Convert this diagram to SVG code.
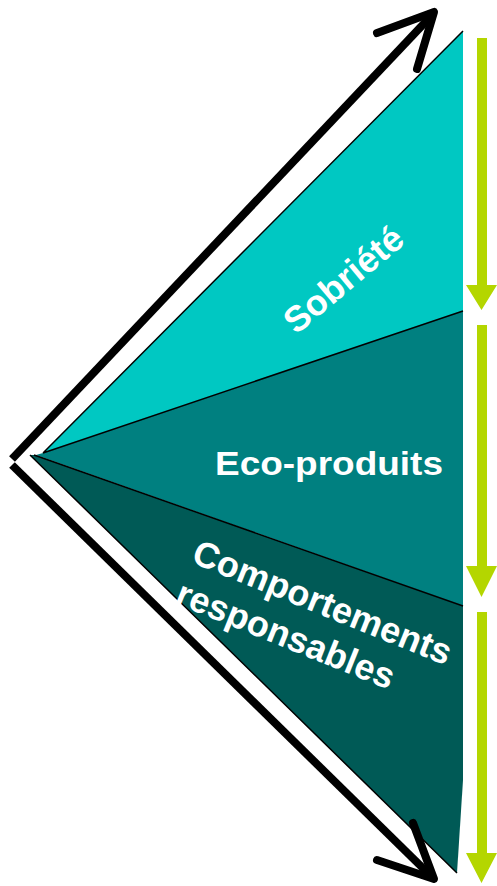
<svg xmlns="http://www.w3.org/2000/svg" width="497" height="886" viewBox="0 0 497 886">
<style>
.lbl{font-family:"Liberation Sans",Arial,sans-serif;font-weight:bold;fill:#fff}
.edge{stroke:#000;stroke-width:1.5;fill:none}
.blk{stroke:#000;stroke-width:8;fill:none;stroke-linejoin:round}
.grn{fill:#B4D600}
</style>
<g id="seg-sobriete">
<polygon points="43,453 463,31 463,311" fill="#00C8C2"/>
</g>
<g id="seg-ecoproduits">
<polygon points="43,453 463,311 463,606 36,455" fill="#008080"/>
</g>
<g id="seg-comportements">
<polygon points="36,455 463,606 463,780 457,873 30,455" fill="#005A56"/>
</g>
<g id="edges">
<path class="edge" d="M43,453 L463,31 M43,453 L463,311 M34,455 L463,606 M30,455 L457,873"/>
</g>
<g id="connectors">
<path class="blk" stroke-linecap="butt" d="M12,459 L433,14"/>
<path class="blk" stroke-linecap="round" d="M377,33 L434,12 L417,69"/>
<path class="blk" stroke-linecap="butt" d="M12,465 L433,878"/>
<path class="blk" stroke-linecap="round" d="M377,860 L434,879 L413,823"/>
<polygon class="grn" points="477,38 487,38 487,285 497,285 481.5,310 466,285 477,285"/>
<polygon class="grn" points="477,325 487,325 487,566 497,566 481.5,597 466,566 477,566"/>
<polygon class="grn" points="477,612 487,612 487,853 497,853 481.5,883 466,853 477,853"/>
</g>
<g id="label-sobriete">
<text class="lbl" font-size="36" text-anchor="middle" transform="translate(343,279) rotate(-40)" y="13">Sobriété</text>
</g>
<g id="label-eco">
<text class="lbl" font-size="33" x="215" y="475" textLength="228" lengthAdjust="spacingAndGlyphs">Eco-produits</text>
</g>
<g id="label-comportements">
<g transform="translate(190,562) rotate(22)">
<text class="lbl" font-size="36" x="0" y="0">Comportements</text>
<text class="lbl" font-size="36" x="0" y="44">responsables</text>
</g>
</g>
</svg>
